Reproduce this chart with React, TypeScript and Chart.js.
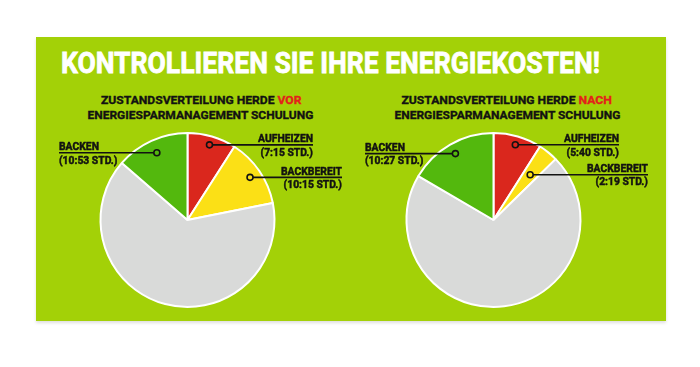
import React, { useEffect, useLayoutEffect, useRef } from "react";
import { Chart, registerables } from "chart.js";

Chart.register(...registerables);

// ---------- data ----------
const categories = ["Aufheizen", "Backbereit", "Aus", "Backen"];
const vorHours = [7.25, 10.25, 51.6, 10.883];
const nachHours = [5.667, 2.317, 44.6, 10.45];
const labelNames = ["AUFHEIZEN", "BACKBEREIT", "", "BACKEN"];
const vorTimes = ["(7:15 STD.)", "(10:15 STD.)", "", "(10:53 STD.)"];
const nachTimes = ["(5:40 STD.)", "(2:19 STD.)", "", "(10:27 STD.)"];
const mainTitle = "KONTROLLIEREN SIE IHRE ENERGIEKOSTEN!";
const subTitleStart = "ZUSTANDSVERTEILUNG HERDE ";
const subTitleVor = "VOR";
const subTitleNach = "NACH";
const subTitleLine2 = "ENERGIESPARMANAGEMENT SCHULUNG";

// ---------- styles ----------
const sliceColors = ["#da271d", "#fbe016", "#d9dad9", "#53b80d"];
const BG = "#a3d107";
const TEXT = "#121212";
const RED = "#e2221b";
const LABEL_FONT = "bold 11.5px Roboto";
const LABEL_SCALE = 0.9;

type LabelCfg = { textOffset: number; depth: number } | null;
const vorLayout: LabelCfg[] = [
  { textOffset: 125.5, depth: 0.9 },
  { textOffset: 154.5, depth: 0.87 },
  null,
  { textOffset: -128.5, depth: 0.85 },
];
const nachLayout: LabelCfg[] = [
  { textOffset: 125.5, depth: 0.9 },
  { textOffset: 154.5, depth: 0.67 },
  null,
  { textOffset: -128.5, depth: 0.88 },
];

function drawScaled(ctx: CanvasRenderingContext2D, text: string, x: number, y: number, align: CanvasTextAlign) {
  ctx.save();
  ctx.translate(x, y);
  ctx.scale(LABEL_SCALE, 1);
  ctx.textAlign = align;
  ctx.textBaseline = "alphabetic";
  ctx.lineWidth = 0.5;
  ctx.strokeStyle = TEXT;
  ctx.lineJoin = "round";
  ctx.strokeText(text, 0, 0);
  ctx.fillText(text, 0, 0);
  ctx.restore();
}

function leaderPlugin(names: string[], times: string[], layout: LabelCfg[]) {
  return {
    id: "leaders",
    afterDatasetsDraw(chart: any) {
      const ctx: CanvasRenderingContext2D = chart.ctx;
      const meta = chart.getDatasetMeta(0);
      meta.data.forEach((arc: any, i: number) => {
        const cfg = layout[i];
        if (!cfg) return;
        const p = arc.getProps(["x", "y", "startAngle", "endAngle", "outerRadius"], true);
        const mid = (p.startAngle + p.endAngle) / 2;
        const px = p.x + Math.cos(mid) * p.outerRadius * cfg.depth;
        const py = p.y + Math.sin(mid) * p.outerRadius * cfg.depth;
        const ax = p.x + cfg.textOffset;
        ctx.save();
        ctx.strokeStyle = TEXT;
        ctx.lineWidth = 1.6;
        ctx.beginPath();
        ctx.moveTo(px, py);
        ctx.lineTo(ax, py);
        ctx.stroke();
        ctx.beginPath();
        ctx.arc(px, py, 3, 0, Math.PI * 2);
        ctx.fillStyle = sliceColors[i];
        ctx.fill();
        ctx.stroke();
        ctx.fillStyle = TEXT;
        ctx.font = LABEL_FONT;
        const align: CanvasTextAlign = cfg.textOffset < 0 ? "left" : "right";
        drawScaled(ctx, names[i], ax, py - 2.5, align);
        drawScaled(ctx, times[i], ax, py + 10.8, align);
        ctx.restore();
      });
    },
  };
}

function PieChart(props: {
  values: number[];
  times: string[];
  layout: LabelCfg[];
  padding: { left: number; right: number; top: number; bottom: number };
  left: number;
  top: number;
}) {
  const ref = useRef<HTMLCanvasElement>(null);
  useEffect(() => {
    const chart = new Chart(ref.current as HTMLCanvasElement, {
      type: "pie",
      data: {
        labels: categories,
        datasets: [
          {
            data: props.values,
            backgroundColor: sliceColors,
            borderColor: "#ffffff",
            borderWidth: 2,
            radius: 87,
          } as any,
        ],
      },
      options: {
        responsive: false,
        animation: false,
        events: [],
        layout: { padding: props.padding },
        plugins: { legend: { display: false }, tooltip: { enabled: false } },
      },
      plugins: [leaderPlugin(labelNames, props.times, props.layout)],
    });
    return () => chart.destroy();
  }, []);
  return (
    <canvas
      ref={ref}
      width={315}
      height={230}
      style={{ position: "absolute", left: props.left, top: props.top, width: 315, height: 230 }}
    />
  );
}

function Fit(props: { width: number; origin: string; style?: React.CSSProperties; children: React.ReactNode }) {
  const ref = useRef<HTMLSpanElement>(null);
  useLayoutEffect(() => {
    const el = ref.current;
    if (!el) return;
    el.style.transform = "none";
    const w = el.offsetWidth;
    if (w > 0) el.style.transform = `scaleX(${props.width / w})`;
  });
  return (
    <span
      ref={ref}
      style={{ display: "inline-block", whiteSpace: "nowrap", transformOrigin: props.origin, ...props.style }}
    >
      {props.children}
    </span>
  );
}

function SubTitle(props: { center: number; word: string; w1: number; w2: number }) {
  const common: React.CSSProperties = {
    position: "absolute",
    left: props.center - 200,
    width: 400,
    textAlign: "center",
    font: "700 11.5px Roboto",
    lineHeight: "15px",
    color: TEXT,
    WebkitTextStroke: "0.35px currentColor",
  };
  return (
    <>
      <div style={{ ...common, top: 93 }}>
        <Fit width={props.w1} origin="center">
          {subTitleStart}
          <span style={{ color: RED }}>{props.word}</span>
        </Fit>
      </div>
      <div style={{ ...common, top: 108 }}>
        <Fit width={props.w2} origin="center">
          {subTitleLine2}
        </Fit>
      </div>
    </>
  );
}

export default function App() {
  return (
    <div
      style={{
        position: "fixed",
        left: 0,
        top: 0,
        width: 700,
        height: 367,
        background: "#ffffff",
        overflow: "hidden",
        fontFamily: "Roboto, sans-serif",
      }}
    >
      <div
        style={{
          position: "absolute",
          left: 36,
          top: 37,
          width: 630,
          height: 284,
          background: BG,
          boxShadow: "0 2px 3px rgba(0,0,0,0.13)",
        }}
      />
      <div
        style={{
          position: "absolute",
          left: 61,
          top: 49,
          font: "700 29px Roboto",
          lineHeight: "29px",
          color: "#ffffff",
          WebkitTextStroke: "0.8px #ffffff",
        }}
      >
        <Fit width={539} origin="left">
          {mainTitle}
        </Fit>
      </div>
      <SubTitle center={200.8} word={subTitleVor} w1={200} w2={226} />
      <SubTitle center={507} word={subTitleNach} w1={210} w2={226} />
      <PieChart
        values={vorHours}
        times={vorTimes}
        layout={vorLayout}
        padding={{ left: 0, right: 12, top: 30, bottom: 0 }}
        left={36}
        top={90}
      />
      <PieChart
        values={nachHours}
        times={nachTimes}
        layout={nachLayout}
        padding={{ left: 0, right: 30, top: 30, bottom: 0 }}
        left={351}
        top={90}
      />
    </div>
  );
}
